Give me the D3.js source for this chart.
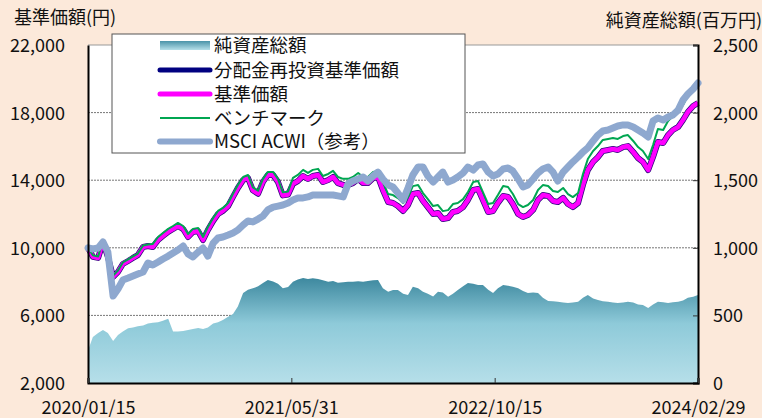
<!DOCTYPE html>
<html>
<head>
<meta charset="utf-8">
<script src="https://cdn.jsdelivr.net/npm/d3@7"></script>
<style>
  body { margin: 0; background: #fce9da; }
  svg { display: block; font-family: "Noto Sans CJK JP", "Noto Sans", sans-serif; }
</style>
</head>
<body>
<div id="chart"></div>
<script>
// period shown and axis ticks
const startDate = new Date(2020, 0, 15);
const endDate = new Date(2024, 1, 29);
const dateTicks = ["2020/01/15", "2021/05/31", "2022/10/15", "2024/02/29"];
const navTicks = [2000, 6000, 10000, 14000, 18000, 22000];
const assetTicks = [0, 500, 1000, 1500, 2000, 2500];

// 純資産総額 (百万円)
const netAssets = [
  240, 340, 370, 392, 370, 310, 355, 380, 405, 410,
  420, 425, 440, 445, 450, 460, 475, 380, 380, 385,
  392, 400, 407, 400, 410, 440, 450, 466, 490, 510,
  565, 666, 690, 700, 715, 740, 762, 750, 735, 700,
  710, 749, 765, 777, 770, 775, 769, 760, 749, 755,
  742, 745, 749, 749, 752, 749, 755, 760, 762, 700,
  675, 688, 688, 660, 651, 712, 700, 675, 660, 640,
  675, 670, 638, 660, 688, 715, 740, 735, 725, 725,
  690, 666, 700, 725, 720, 712, 700, 680, 666, 670,
  666, 630, 606, 604, 601, 596, 592, 596, 601, 630,
  651, 625, 614, 605, 601, 596, 592, 596, 601, 595,
  580, 577, 555, 580, 601, 597, 592, 598, 601, 610,
  630, 638, 651
];

// 基準価額 (円)
const nav = [
  10000, 9470, 9400, 10340, 9470, 8270, 8570, 9040, 9220, 9400,
  9570, 10050, 10110, 10050, 10460, 10700, 10940, 11110, 11290, 11110,
  10640, 10940, 10990, 10460, 11050, 11590, 12000, 12180, 12470, 13010,
  13540, 14010, 14130, 13400, 13200, 13900, 14310, 14310, 13890, 13100,
  13150, 13780, 13950, 14250, 14070, 14250, 14310, 13890, 14010, 14190,
  13830, 13720, 13720, 13830, 14070, 13830, 13830, 14130, 14190, 13420,
  12710, 12650, 12470, 12180, 12530, 13180, 13240, 12770, 12410, 12000,
  12060, 11700, 11760, 12120, 12180, 12410, 12830, 13420, 13480, 12830,
  12120, 12180, 12650, 13070, 13010, 12590, 12000, 11820, 11940, 12240,
  12830, 13120, 13070, 12770, 12710, 12950, 12590, 12410, 12650, 13720,
  14600, 15080, 15370, 15730, 15790, 15850, 15790, 15960, 16020, 15670,
  15310, 15080, 14600, 15370, 16260, 16200, 16670, 16970, 17150, 17560,
  18040, 18390, 18570
];

// 分配金再投資基準価額 (no distributions, same as 基準価額)
const navReinvested = nav.slice();

// ベンチマーク
const benchmark = [
  10000, 9560, 9490, 10430, 9560, 8360, 8660, 9130, 9310, 9490,
  9660, 10140, 10200, 10230, 10640, 10880, 11120, 11290, 11470, 11290,
  10820, 11120, 11170, 10640, 11230, 11770, 12180, 12360, 12650, 13190,
  13720, 14190, 14310, 13580, 13380, 14080, 14490, 14490, 14070, 13280,
  13330, 14140, 14310, 14610, 14430, 14610, 14670, 14250, 14370, 14550,
  14190, 14080, 14080, 14190, 14430, 14190, 14190, 14490, 14550, 13890,
  13180, 13120, 12940, 12650, 13000, 13650, 13710, 13240, 12880, 12470,
  12530, 12170, 12230, 12590, 12650, 12880, 13300, 13890, 13950, 13300,
  12590, 12650, 13120, 13660, 13600, 13180, 12590, 12410, 12530, 12830,
  13420, 13710, 13660, 13360, 13300, 13540, 13180, 13000, 13240, 14370,
  15250, 15730, 16020, 16380, 16440, 16500, 16440, 16610, 16670, 16320,
  15960, 15730, 15250, 16080, 17030, 16970, 17500, 17800, 18040, 18450,
  18990, 19340, 19580
];

// MSCI ACWI(参考)
const msci = [
  10000, 9930, 9990, 10340, 9750, 7150, 7560, 8090, 8210, 8330,
  8450, 8570, 9100, 8980, 9160, 9340, 9510, 9690, 9870, 10110,
  9630, 9460, 9750, 9990, 9510, 10280, 10580, 10640, 10760, 10880,
  11050, 11350, 11590, 11530, 11700, 11880, 12240, 12410, 12470, 12530,
  12650, 12830, 12950, 12950, 13010, 13120, 13120, 13120, 13120, 13120,
  13070, 13010, 13770, 13950, 14070, 14190, 13950, 14250, 14480, 14070,
  13720, 13600, 13240, 12830, 13540, 14310, 14780, 14780, 14250, 13890,
  14190, 14480, 13890, 14010, 14190, 14430, 14780, 14600, 14900, 14960,
  14480, 14250, 14370, 14660, 14720, 14540, 14070, 13600, 13720, 14070,
  14430, 14660, 14780, 14480, 13950, 14480, 14780, 15080, 15370, 15670,
  15910, 16320, 16670, 16910, 16970, 17090, 17210, 17270, 17270, 17150,
  16970, 16790, 16560, 17500, 17680, 17560, 17740, 17860, 18150, 18750,
  19100, 19400, 19750
];

const legendItems = [
  { label: "純資産総額", type: "area" },
  { label: "分配金再投資基準価額", color: "#000080", width: 5 },
  { label: "基準価額", color: "#ff00ff", width: 5 },
  { label: "ベンチマーク", color: "#00a651", width: 2 },
  { label: "MSCI ACWI（参考）", color: "#8ea8cf", width: 6 }
];

const width = 762, height = 418;
const plot = { left: 88, right: 698, top: 45, bottom: 383 };

const svg = d3.select("#chart").append("svg")
  .attr("width", width)
  .attr("height", height);

svg.append("rect").attr("width", width).attr("height", height).attr("fill", "#fce9da");
svg.append("rect")
  .attr("x", plot.left).attr("y", plot.top)
  .attr("width", plot.right - plot.left).attr("height", plot.bottom - plot.top)
  .attr("fill", "#fff");

const x = d3.scaleTime().domain([startDate, endDate]).range([plot.left, plot.right]);
const y = d3.scaleLinear().domain([2000, 22000]).range([plot.bottom, plot.top]);
const yR = d3.scaleLinear().domain([0, 2500]).range([plot.bottom, plot.top]);

const span = d3.timeDay.count(startDate, endDate);
const dates = nav.map((_, i) => d3.timeDay.offset(startDate, Math.round(i * span / (nav.length - 1))));

// gradients
const defs = svg.append("defs");
const grad = defs.append("linearGradient")
  .attr("id", "assetGrad")
  .attr("gradientUnits", "userSpaceOnUse")
  .attr("x1", 0).attr("x2", 0)
  .attr("y1", yR(800)).attr("y2", yR(0));
grad.append("stop").attr("offset", "0%").attr("stop-color", "#38849b");
grad.append("stop").attr("offset", "45%").attr("stop-color", "#8ecad9");
grad.append("stop").attr("offset", "100%").attr("stop-color", "#b6dfe9");

const legGrad = defs.append("linearGradient")
  .attr("id", "legGrad").attr("x1", 0).attr("x2", 0).attr("y1", 0).attr("y2", 1);
legGrad.append("stop").attr("offset", "0%").attr("stop-color", "#4a93a8");
legGrad.append("stop").attr("offset", "100%").attr("stop-color", "#b6dfe9");

// gridlines
svg.append("g")
  .selectAll("line")
  .data(navTicks.filter(d => d > 2000 && d < 22000))
  .join("line")
  .attr("x1", plot.left).attr("x2", plot.right)
  .attr("y1", d => y(d)).attr("y2", d => y(d))
  .attr("stroke", "#777")
  .attr("stroke-width", 1)
  .attr("stroke-dasharray", "2,1");

svg.append("line")
  .attr("x1", plot.left).attr("x2", plot.right)
  .attr("y1", plot.top).attr("y2", plot.top)
  .attr("stroke", "#999");

// net assets area
const area = d3.area()
  .x((d, i) => x(dates[i]))
  .y0(yR(0))
  .y1(d => yR(d));

svg.append("path")
  .datum(netAssets)
  .attr("fill", "url(#assetGrad)")
  .attr("d", area);

// lines
const line = d3.line()
  .x((d, i) => x(dates[i]))
  .y(d => y(d));

svg.append("path").datum(navReinvested)
  .attr("fill", "none").attr("stroke", "#2a0a7a").attr("stroke-width", 6)
  .attr("stroke-linejoin", "round").attr("d", line);

svg.append("path").datum(nav)
  .attr("fill", "none").attr("stroke", "#ff00ff").attr("stroke-width", 4.5)
  .attr("stroke-linejoin", "round").attr("d", line);

svg.append("path").datum(benchmark)
  .attr("fill", "none").attr("stroke", "#00a651").attr("stroke-width", 2)
  .attr("stroke-linejoin", "round").attr("d", line);

svg.append("path").datum(msci)
  .attr("fill", "none").attr("stroke", "#8ea8cf").attr("stroke-width", 7)
  .attr("stroke-linejoin", "round").attr("stroke-linecap", "round").attr("d", line);

// axes
const leftAxis = svg.append("g")
  .attr("transform", `translate(${plot.left},0)`)
  .call(d3.axisLeft(y).tickValues(navTicks).tickFormat(d3.format(",")).tickSize(0).tickPadding(23));

const rightAxis = svg.append("g")
  .attr("transform", `translate(${plot.right},0)`)
  .call(d3.axisRight(yR).tickValues(assetTicks).tickFormat(d3.format(",")).tickSize(-5).tickPadding(15));

const bottomAxis = svg.append("g")
  .attr("transform", `translate(0,${plot.bottom})`)
  .call(d3.axisBottom(x)
    .tickValues(dateTicks.map(d3.timeParse("%Y/%m/%d")))
    .tickFormat(d3.timeFormat("%Y/%m/%d"))
    .tickSize(-5).tickPadding(18));

[leftAxis, rightAxis, bottomAxis].forEach(g => {
  g.select(".domain").attr("stroke", "#000").attr("stroke-width", 2);
  g.selectAll(".tick line").attr("stroke", "#333");
  g.selectAll("text").attr("font-size", 18).attr("fill", "#111")
    .attr("font-family", "\"Noto Sans CJK JP\", sans-serif");
});
leftAxis.selectAll("text").attr("dy", "0.36em");
rightAxis.selectAll("text").attr("dy", "0.36em");

// axis titles
svg.append("text").attr("x", 14).attr("y", 24)
  .attr("font-size", 18).attr("fill", "#111").text("基準価額(円)");
svg.append("text").attr("x", 762).attr("y", 27).attr("text-anchor", "end")
  .attr("font-size", 18).attr("fill", "#111").text("純資産総額(百万円)");

// legend
const legend = svg.append("g");
legend.append("rect")
  .attr("x", 112).attr("y", 34).attr("width", 353).attr("height", 119)
  .attr("fill", "#fff").attr("stroke", "#555").attr("stroke-width", 1);

const rowY = [45.5, 70, 94, 118, 141.5];
legendItems.forEach((item, i) => {
  const cy = rowY[i];
  if (item.type === "area") {
    legend.append("rect").attr("x", 160).attr("y", cy - 4.5).attr("width", 50).attr("height", 9)
      .attr("fill", "url(#legGrad)");
  } else {
    legend.append("line")
      .attr("x1", 160).attr("x2", 210).attr("y1", cy).attr("y2", cy)
      .attr("stroke", item.color).attr("stroke-width", item.width)
      .attr("stroke-linecap", item.width > 3 ? "round" : "butt");
  }
  legend.append("text")
    .attr("x", 214).attr("y", cy).attr("dy", "0.36em")
    .attr("font-size", 18.5).attr("fill", "#111")
    .text(item.label);
});
</script>
</body>
</html>
